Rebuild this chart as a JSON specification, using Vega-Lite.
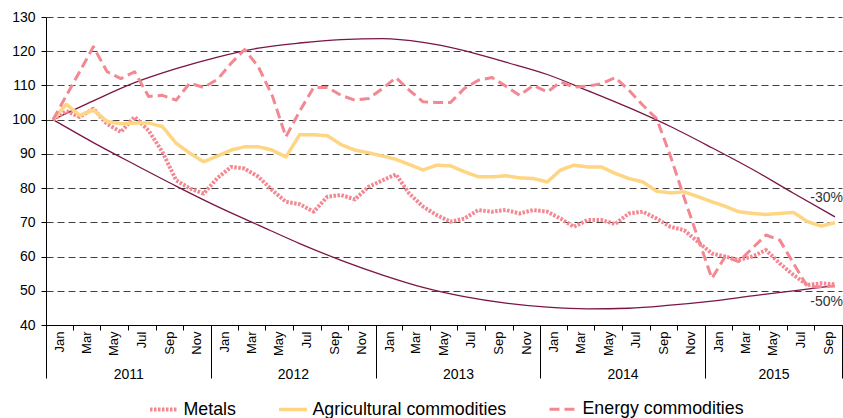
{
  "$schema": "https://vega.github.io/schema/vega-lite/v6.json",
  "width": 796,
  "height": 308,
  "autosize": "none",
  "padding": {"left": 46, "top": 17, "right": 1, "bottom": 93},
  "background": "white",
  "config": {
    "view": {"stroke": null},
    "font": "Liberation Sans",
    "axis": {"labelFont": "Liberation Sans", "labelColor": "#000000", "domainColor": "#000000", "tickColor": "#000000", "title": null},
    "axisY": {
      "values": [40, 50, 60, 70, 80, 90, 100, 110, 120, 130],
      "grid": true, "gridDash": [7, 4], "gridColor": "#404040", "gridWidth": 1,
      "tickSize": 5, "labelFontSize": 14, "labelPadding": 6, "labelOverlap": false
    },
    "legend": {"labelFont": "Liberation Sans"}
  },
  "datasets": {
    "series": [
      {"month":"2011-01-01","series":"Metals","value":100},
      {"month":"2011-02-01","series":"Metals","value":102.5},
      {"month":"2011-03-01","series":"Metals","value":100.8},
      {"month":"2011-04-01","series":"Metals","value":103.2},
      {"month":"2011-05-01","series":"Metals","value":98.7},
      {"month":"2011-06-01","series":"Metals","value":96.4},
      {"month":"2011-07-01","series":"Metals","value":100.8},
      {"month":"2011-08-01","series":"Metals","value":96.8},
      {"month":"2011-09-01","series":"Metals","value":90.6},
      {"month":"2011-10-01","series":"Metals","value":82.3},
      {"month":"2011-11-01","series":"Metals","value":79.9},
      {"month":"2011-12-01","series":"Metals","value":78.4},
      {"month":"2012-01-01","series":"Metals","value":83},
      {"month":"2012-02-01","series":"Metals","value":86.2},
      {"month":"2012-03-01","series":"Metals","value":85.7},
      {"month":"2012-04-01","series":"Metals","value":83.3},
      {"month":"2012-05-01","series":"Metals","value":79.4},
      {"month":"2012-06-01","series":"Metals","value":76},
      {"month":"2012-07-01","series":"Metals","value":75.3},
      {"month":"2012-08-01","series":"Metals","value":73.1},
      {"month":"2012-09-01","series":"Metals","value":77.5},
      {"month":"2012-10-01","series":"Metals","value":78},
      {"month":"2012-11-01","series":"Metals","value":76.7},
      {"month":"2012-12-01","series":"Metals","value":80.4},
      {"month":"2013-01-01","series":"Metals","value":82.3},
      {"month":"2013-02-01","series":"Metals","value":84},
      {"month":"2013-03-01","series":"Metals","value":78.4},
      {"month":"2013-04-01","series":"Metals","value":74.6},
      {"month":"2013-05-01","series":"Metals","value":72.1},
      {"month":"2013-06-01","series":"Metals","value":70.2},
      {"month":"2013-07-01","series":"Metals","value":71.1},
      {"month":"2013-08-01","series":"Metals","value":73.6},
      {"month":"2013-09-01","series":"Metals","value":73.1},
      {"month":"2013-10-01","series":"Metals","value":73.6},
      {"month":"2013-11-01","series":"Metals","value":72.6},
      {"month":"2013-12-01","series":"Metals","value":73.6},
      {"month":"2014-01-01","series":"Metals","value":73.1},
      {"month":"2014-02-01","series":"Metals","value":71.1},
      {"month":"2014-03-01","series":"Metals","value":68.7},
      {"month":"2014-04-01","series":"Metals","value":70.7},
      {"month":"2014-05-01","series":"Metals","value":70.7},
      {"month":"2014-06-01","series":"Metals","value":69.5},
      {"month":"2014-07-01","series":"Metals","value":72.6},
      {"month":"2014-08-01","series":"Metals","value":73.1},
      {"month":"2014-09-01","series":"Metals","value":71.1},
      {"month":"2014-10-01","series":"Metals","value":68.7},
      {"month":"2014-11-01","series":"Metals","value":67.7},
      {"month":"2014-12-01","series":"Metals","value":64.3},
      {"month":"2015-01-01","series":"Metals","value":60.9},
      {"month":"2015-02-01","series":"Metals","value":60},
      {"month":"2015-03-01","series":"Metals","value":59},
      {"month":"2015-04-01","series":"Metals","value":60},
      {"month":"2015-05-01","series":"Metals","value":61.9},
      {"month":"2015-06-01","series":"Metals","value":58},
      {"month":"2015-07-01","series":"Metals","value":54.6},
      {"month":"2015-08-01","series":"Metals","value":51.7},
      {"month":"2015-09-01","series":"Metals","value":52.2},
      {"month":"2015-10-01","series":"Metals","value":51.9},

      {"month":"2011-01-01","series":"Agricultural commodities","value":100},
      {"month":"2011-02-01","series":"Agricultural commodities","value":104.5},
      {"month":"2011-03-01","series":"Agricultural commodities","value":101.3},
      {"month":"2011-04-01","series":"Agricultural commodities","value":102.8},
      {"month":"2011-05-01","series":"Agricultural commodities","value":99.5},
      {"month":"2011-06-01","series":"Agricultural commodities","value":98.8},
      {"month":"2011-07-01","series":"Agricultural commodities","value":99},
      {"month":"2011-08-01","series":"Agricultural commodities","value":99},
      {"month":"2011-09-01","series":"Agricultural commodities","value":98},
      {"month":"2011-10-01","series":"Agricultural commodities","value":93.1},
      {"month":"2011-11-01","series":"Agricultural commodities","value":90.2},
      {"month":"2011-12-01","series":"Agricultural commodities","value":87.7},
      {"month":"2012-01-01","series":"Agricultural commodities","value":89.4},
      {"month":"2012-02-01","series":"Agricultural commodities","value":91.1},
      {"month":"2012-03-01","series":"Agricultural commodities","value":92.1},
      {"month":"2012-04-01","series":"Agricultural commodities","value":92.1},
      {"month":"2012-05-01","series":"Agricultural commodities","value":91.1},
      {"month":"2012-06-01","series":"Agricultural commodities","value":89.1},
      {"month":"2012-07-01","series":"Agricultural commodities","value":95.6},
      {"month":"2012-08-01","series":"Agricultural commodities","value":95.6},
      {"month":"2012-09-01","series":"Agricultural commodities","value":95.3},
      {"month":"2012-10-01","series":"Agricultural commodities","value":92.7},
      {"month":"2012-11-01","series":"Agricultural commodities","value":91.1},
      {"month":"2012-12-01","series":"Agricultural commodities","value":90.3},
      {"month":"2013-01-01","series":"Agricultural commodities","value":89.4},
      {"month":"2013-02-01","series":"Agricultural commodities","value":88.4},
      {"month":"2013-03-01","series":"Agricultural commodities","value":86.9},
      {"month":"2013-04-01","series":"Agricultural commodities","value":85.3},
      {"month":"2013-05-01","series":"Agricultural commodities","value":86.7},
      {"month":"2013-06-01","series":"Agricultural commodities","value":86.5},
      {"month":"2013-07-01","series":"Agricultural commodities","value":84.8},
      {"month":"2013-08-01","series":"Agricultural commodities","value":83.3},
      {"month":"2013-09-01","series":"Agricultural commodities","value":83.3},
      {"month":"2013-10-01","series":"Agricultural commodities","value":83.6},
      {"month":"2013-11-01","series":"Agricultural commodities","value":83},
      {"month":"2013-12-01","series":"Agricultural commodities","value":82.8},
      {"month":"2014-01-01","series":"Agricultural commodities","value":81.8},
      {"month":"2014-02-01","series":"Agricultural commodities","value":85.3},
      {"month":"2014-03-01","series":"Agricultural commodities","value":86.7},
      {"month":"2014-04-01","series":"Agricultural commodities","value":86.2},
      {"month":"2014-05-01","series":"Agricultural commodities","value":86.2},
      {"month":"2014-06-01","series":"Agricultural commodities","value":84.3},
      {"month":"2014-07-01","series":"Agricultural commodities","value":82.8},
      {"month":"2014-08-01","series":"Agricultural commodities","value":81.8},
      {"month":"2014-09-01","series":"Agricultural commodities","value":79.1},
      {"month":"2014-10-01","series":"Agricultural commodities","value":78.6},
      {"month":"2014-11-01","series":"Agricultural commodities","value":78.9},
      {"month":"2014-12-01","series":"Agricultural commodities","value":77.5},
      {"month":"2015-01-01","series":"Agricultural commodities","value":76},
      {"month":"2015-02-01","series":"Agricultural commodities","value":74.7},
      {"month":"2015-03-01","series":"Agricultural commodities","value":73.1},
      {"month":"2015-04-01","series":"Agricultural commodities","value":72.6},
      {"month":"2015-05-01","series":"Agricultural commodities","value":72.3},
      {"month":"2015-06-01","series":"Agricultural commodities","value":72.6},
      {"month":"2015-07-01","series":"Agricultural commodities","value":72.9},
      {"month":"2015-08-01","series":"Agricultural commodities","value":70.2},
      {"month":"2015-09-01","series":"Agricultural commodities","value":68.9},
      {"month":"2015-10-01","series":"Agricultural commodities","value":69.9},

      {"month":"2011-01-01","series":"Energy commodities","value":100},
      {"month":"2011-02-01","series":"Energy commodities","value":107},
      {"month":"2011-03-01","series":"Energy commodities","value":114},
      {"month":"2011-04-01","series":"Energy commodities","value":121.3},
      {"month":"2011-05-01","series":"Energy commodities","value":114},
      {"month":"2011-06-01","series":"Energy commodities","value":112},
      {"month":"2011-07-01","series":"Energy commodities","value":114},
      {"month":"2011-08-01","series":"Energy commodities","value":106.8},
      {"month":"2011-09-01","series":"Energy commodities","value":107.1},
      {"month":"2011-10-01","series":"Energy commodities","value":105.7},
      {"month":"2011-11-01","series":"Energy commodities","value":110.7},
      {"month":"2011-12-01","series":"Energy commodities","value":109.4},
      {"month":"2012-01-01","series":"Energy commodities","value":111.8},
      {"month":"2012-02-01","series":"Energy commodities","value":116.5},
      {"month":"2012-03-01","series":"Energy commodities","value":120.5},
      {"month":"2012-04-01","series":"Energy commodities","value":115.4},
      {"month":"2012-05-01","series":"Energy commodities","value":107.1},
      {"month":"2012-06-01","series":"Energy commodities","value":95},
      {"month":"2012-07-01","series":"Energy commodities","value":102.5},
      {"month":"2012-08-01","series":"Energy commodities","value":109.4},
      {"month":"2012-09-01","series":"Energy commodities","value":109.4},
      {"month":"2012-10-01","series":"Energy commodities","value":107.1},
      {"month":"2012-11-01","series":"Energy commodities","value":105.7},
      {"month":"2012-12-01","series":"Energy commodities","value":106.2},
      {"month":"2013-01-01","series":"Energy commodities","value":109.1},
      {"month":"2013-02-01","series":"Energy commodities","value":112.3},
      {"month":"2013-03-01","series":"Energy commodities","value":108.6},
      {"month":"2013-04-01","series":"Energy commodities","value":105.2},
      {"month":"2013-05-01","series":"Energy commodities","value":105},
      {"month":"2013-06-01","series":"Energy commodities","value":105},
      {"month":"2013-07-01","series":"Energy commodities","value":109.1},
      {"month":"2013-08-01","series":"Energy commodities","value":111.5},
      {"month":"2013-09-01","series":"Energy commodities","value":112.3},
      {"month":"2013-10-01","series":"Energy commodities","value":109.8},
      {"month":"2013-11-01","series":"Energy commodities","value":107.1},
      {"month":"2013-12-01","series":"Energy commodities","value":110},
      {"month":"2014-01-01","series":"Energy commodities","value":108.1},
      {"month":"2014-02-01","series":"Energy commodities","value":111},
      {"month":"2014-03-01","series":"Energy commodities","value":109.5},
      {"month":"2014-04-01","series":"Energy commodities","value":109.8},
      {"month":"2014-05-01","series":"Energy commodities","value":110.5},
      {"month":"2014-06-01","series":"Energy commodities","value":112.3},
      {"month":"2014-07-01","series":"Energy commodities","value":108.6},
      {"month":"2014-08-01","series":"Energy commodities","value":104.2},
      {"month":"2014-09-01","series":"Energy commodities","value":100.3},
      {"month":"2014-10-01","series":"Energy commodities","value":89.4},
      {"month":"2014-11-01","series":"Energy commodities","value":77.2},
      {"month":"2014-12-01","series":"Energy commodities","value":65.5},
      {"month":"2015-01-01","series":"Energy commodities","value":53.6},
      {"month":"2015-02-01","series":"Energy commodities","value":60},
      {"month":"2015-03-01","series":"Energy commodities","value":58.5},
      {"month":"2015-04-01","series":"Energy commodities","value":62.4},
      {"month":"2015-05-01","series":"Energy commodities","value":66.3},
      {"month":"2015-06-01","series":"Energy commodities","value":64.8},
      {"month":"2015-07-01","series":"Energy commodities","value":58},
      {"month":"2015-08-01","series":"Energy commodities","value":51.2},
      {"month":"2015-09-01","series":"Energy commodities","value":51.2},
      {"month":"2015-10-01","series":"Energy commodities","value":51.4}
    ],
    "curves": [
      {"month":"2011-01-01","curve":"upper","value":100},
      {"month":"2011-04-01","curve":"upper","value":105.5},
      {"month":"2011-07-01","curve":"upper","value":110.8},
      {"month":"2011-10-01","curve":"upper","value":114.9},
      {"month":"2012-01-01","curve":"upper","value":118.3},
      {"month":"2012-04-01","curve":"upper","value":120.9},
      {"month":"2012-07-01","curve":"upper","value":122.4},
      {"month":"2012-10-01","curve":"upper","value":123.4},
      {"month":"2013-01-01","curve":"upper","value":123.7},
      {"month":"2013-04-01","curve":"upper","value":122.6},
      {"month":"2013-07-01","curve":"upper","value":120.2},
      {"month":"2013-10-01","curve":"upper","value":116.8},
      {"month":"2014-01-01","curve":"upper","value":113.2},
      {"month":"2014-04-01","curve":"upper","value":108.5},
      {"month":"2014-07-01","curve":"upper","value":103.5},
      {"month":"2014-10-01","curve":"upper","value":98},
      {"month":"2015-01-01","curve":"upper","value":91.8},
      {"month":"2015-04-01","curve":"upper","value":85.5},
      {"month":"2015-07-01","curve":"upper","value":78.5},
      {"month":"2015-10-01","curve":"upper","value":71.6},
      {"month":"2011-01-01","curve":"lower","value":100},
      {"month":"2011-04-01","curve":"lower","value":93.3},
      {"month":"2011-07-01","curve":"lower","value":86.9},
      {"month":"2011-10-01","curve":"lower","value":80.6},
      {"month":"2012-01-01","curve":"lower","value":74.6},
      {"month":"2012-04-01","curve":"lower","value":69.2},
      {"month":"2012-07-01","curve":"lower","value":63.8},
      {"month":"2012-10-01","curve":"lower","value":58.9},
      {"month":"2013-01-01","curve":"lower","value":54.6},
      {"month":"2013-04-01","curve":"lower","value":51},
      {"month":"2013-07-01","curve":"lower","value":48.3},
      {"month":"2013-10-01","curve":"lower","value":46.4},
      {"month":"2014-01-01","curve":"lower","value":45.2},
      {"month":"2014-04-01","curve":"lower","value":44.7},
      {"month":"2014-07-01","curve":"lower","value":44.9},
      {"month":"2014-10-01","curve":"lower","value":45.8},
      {"month":"2015-01-01","curve":"lower","value":47},
      {"month":"2015-04-01","curve":"lower","value":48.5},
      {"month":"2015-07-01","curve":"lower","value":50},
      {"month":"2015-10-01","curve":"lower","value":51.5}
    ],
    "notes": [
      {"month":"2015-10-01","label":"-30%","value":77},
      {"month":"2015-10-01","label":"-50%","value":46.7}
    ]
  },
  "resolve": {"axis": {"x": "independent"}},
  "layer": [
    {
      "data": {"name": "curves"},
      "mark": {"type": "line", "interpolate": "monotone", "color": "#7A1545", "strokeWidth": 1.3},
      "encoding": {
        "x": {
          "field": "month", "type": "temporal", "timeUnit": "utcyearmonth", "bandPosition": 0.5,
          "scale": {"type": "utc", "domain": [{"year": 2011, "month": 1, "date": 1, "utc": true}, {"year": 2015, "month": 11, "date": 1, "utc": true}], "nice": false},
          "axis": {
            "orient": "bottom",
            "values": [
              {"year": 2011, "month": 1, "date": 1, "utc": true},
              {"year": 2012, "month": 1, "date": 1, "utc": true},
              {"year": 2013, "month": 1, "date": 1, "utc": true},
              {"year": 2014, "month": 1, "date": 1, "utc": true},
              {"year": 2015, "month": 1, "date": 1, "utc": true},
              {"year": 2015, "month": 11, "date": 1, "utc": true}
            ],
            "format": "%Y",
            "labelExpr": "utcmonth(datum.value) == 10 ? '' : datum.label",
            "domain": false, "grid": false, "tickSize": 53, "labelAngle": 0,
            "labelAlign": "center", "labelBaseline": "top",
            "labelPadding": -11, "labelFontSize": 14, "labelFlush": false, "labelOverlap": false,
            "labelOffset": {"condition": {"test": "utcyear(datum.value) == 2015", "value": 68.6}, "value": 82.3}
          }
        },
        "y": {"field": "value", "type": "quantitative", "scale": {"domain": [40, 130], "nice": false, "zero": false}},
        "detail": {"field": "curve"}
      }
    },
    {
      "data": {"name": "series"},
      "mark": {"type": "line", "strokeJoin": "round"},
      "encoding": {
        "x": {
          "field": "month", "type": "temporal", "timeUnit": "utcyearmonth", "bandPosition": 0.5,
          "scale": {"type": "utc", "nice": false},
          "axis": {
            "orient": "bottom",
            "tickCount": {"interval": "month", "step": 2},
            "format": "%b",
            "labelExpr": "utcyear(datum.value) == 2015 && utcmonth(datum.value) == 10 ? '' : datum.label",
            "labelAngle": -90, "labelAlign": "right", "labelBaseline": "middle",
            "labelOffset": 13.6, "labelPadding": 1, "tickSize": 5,
            "labelFontSize": 13, "labelFlush": false, "labelOverlap": false, "grid": false
          }
        },
        "y": {
          "field": "value", "type": "quantitative",
          "scale": {"domain": [40, 130], "nice": false, "zero": false}
        },
        "color": {
          "field": "series", "type": "nominal",
          "scale": {"domain": ["Metals", "Agricultural commodities", "Energy commodities"], "range": ["#F38892", "#FED583", "#F38892"]},
          "legend": {
            "title": null, "orient": "none", "legendX": 102, "legendY": 376.5, "direction": "horizontal", "padding": 0,
            "symbolType": "stroke", "symbolSize": 784, "labelFontSize": 17.8, "labelLimit": 400,
            "labelOffset": 3.5, "columnPadding": 36, "labelColor": "#000000"
          }
        },
        "strokeDash": {
          "field": "series", "type": "nominal",
          "scale": {"domain": ["Metals", "Agricultural commodities", "Energy commodities"], "range": [[2.5, 1.5], [1, 0], [10, 5]]},
          "legend": {
            "title": null, "orient": "none", "legendX": 102, "legendY": 376.5, "direction": "horizontal", "padding": 0,
            "symbolType": "stroke", "symbolSize": 784, "labelFontSize": 17.8, "labelLimit": 400,
            "labelOffset": 3.5, "columnPadding": 36, "labelColor": "#000000"
          }
        },
        "strokeWidth": {
          "field": "series", "type": "nominal",
          "scale": {"type": "ordinal", "domain": ["Metals", "Agricultural commodities", "Energy commodities"], "range": [4, 3.5, 3]},
          "legend": {
            "title": null, "orient": "none", "legendX": 102, "legendY": 376.5, "direction": "horizontal", "padding": 0,
            "symbolType": "stroke", "symbolSize": 784, "labelFontSize": 17.8, "labelLimit": 400,
            "labelOffset": 3.5, "columnPadding": 36, "labelColor": "#000000"
          }
        }
      }
    },
    {
      "data": {"name": "notes"},
      "mark": {"type": "text", "align": "right", "baseline": "middle", "fontSize": 14, "color": "#333333", "dx": 1},
      "encoding": {
        "x": {"field": "month", "type": "temporal", "timeUnit": "utcyearmonth", "bandPosition": 1, "scale": {"type": "utc"}, "axis": null},
        "y": {"field": "value", "type": "quantitative"},
        "text": {"field": "label"}
      }
    }
  ]
}
